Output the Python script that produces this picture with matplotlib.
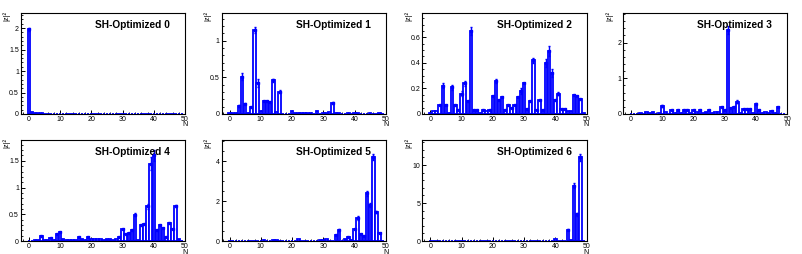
import numpy as np
import matplotlib as mpl
mpl.use('Agg')
import matplotlib.pyplot as plt
import matplotlib.ticker as mticker

mpl.rcParams.update({
    'font.family': ['Liberation Sans', 'DejaVu Sans'],
    'axes.linewidth': 0.8,
    'xtick.direction': 'in', 'ytick.direction': 'in',
    'figure.facecolor': 'white',
})

N_BINS = list(range(50))

H0 = [1.97, 0.04, 0.02, 0.03, 0.015, 0.01, 0.01, 0.01, 0.01, 0.01,
      0.01, 0.01, 0.01, 0.01, 0.005, 0.01, 0.005, 0.01, 0.005, 0.005,
      0.01, 0.005, 0.005, 0.005, 0.005, 0.01, 0.005, 0.005, 0.005, 0.005,
      0.005, 0.005, 0.005, 0.005, 0.005, 0.005, 0.005, 0.005, 0.005, 0.005,
      0.005, 0.005, 0.005, 0.005, 0.005, 0.005, 0.005, 0.005, 0.005, 0.005]
H1 = [0.02, 0.02, 0.01, 0.11, 0.51, 0.14, 0.01, 0.09, 1.14, 0.42,
      0.04, 0.18, 0.18, 0.16, 0.46, 0.03, 0.30, 0.005, 0.005, 0.005,
      0.04, 0.02, 0.02, 0.01, 0.01, 0.015, 0.01, 0.005, 0.04, 0.005,
      0.01, 0.01, 0.03, 0.15, 0.01, 0.02, 0.005, 0.005, 0.01, 0.005,
      0.01, 0.01, 0.005, 0.005, 0.005, 0.01, 0.005, 0.005, 0.02, 0.005]
H2 = [0.01, 0.02, 0.02, 0.07, 0.22, 0.07, 0.01, 0.21, 0.07, 0.03,
      0.16, 0.24, 0.10, 0.65, 0.03, 0.03, 0.01, 0.03, 0.02, 0.03,
      0.14, 0.26, 0.11, 0.13, 0.03, 0.07, 0.05, 0.07, 0.13, 0.18,
      0.24, 0.04, 0.10, 0.42, 0.03, 0.11, 0.03, 0.40, 0.49, 0.32,
      0.11, 0.16, 0.04, 0.04, 0.02, 0.02, 0.15, 0.14, 0.12, 0.005]
H3 = [0.005, 0.005, 0.01, 0.02, 0.01, 0.05, 0.02, 0.05, 0.01, 0.03,
      0.22, 0.05, 0.01, 0.10, 0.03, 0.11, 0.02, 0.10, 0.10, 0.02,
      0.10, 0.07, 0.12, 0.02, 0.06, 0.10, 0.04, 0.05, 0.06, 0.20,
      0.12, 2.35, 0.16, 0.19, 0.35, 0.02, 0.14, 0.14, 0.15, 0.02,
      0.29, 0.11, 0.02, 0.05, 0.02, 0.09, 0.04, 0.19, 0.01, 0.005]
H4 = [0.005, 0.005, 0.01, 0.01, 0.09, 0.02, 0.01, 0.06, 0.01, 0.14,
      0.16, 0.03, 0.02, 0.02, 0.01, 0.02, 0.07, 0.03, 0.01, 0.08,
      0.03, 0.03, 0.03, 0.04, 0.02, 0.03, 0.03, 0.02, 0.04, 0.07,
      0.23, 0.14, 0.15, 0.21, 0.49, 0.02, 0.30, 0.32, 0.65, 1.45,
      1.60, 0.20, 0.30, 0.25, 0.08, 0.33, 0.22, 0.65, 0.03, 0.005]
H5 = [0.01, 0.01, 0.01, 0.01, 0.01, 0.01, 0.01, 0.01, 0.01, 0.01,
      0.02, 0.05, 0.01, 0.02, 0.03, 0.03, 0.01, 0.01, 0.01, 0.01,
      0.01, 0.01, 0.08, 0.01, 0.01, 0.02, 0.01, 0.02, 0.01, 0.03,
      0.04, 0.10, 0.02, 0.01, 0.28, 0.55, 0.02, 0.10, 0.18, 0.03,
      0.60, 1.15, 0.35, 0.25, 2.40, 1.80, 4.20, 1.45, 0.42, 0.01]
H6 = [0.02, 0.02, 0.02, 0.02, 0.02, 0.02, 0.02, 0.02, 0.02, 0.02,
      0.02, 0.02, 0.02, 0.02, 0.02, 0.05, 0.02, 0.02, 0.02, 0.02,
      0.02, 0.02, 0.02, 0.02, 0.02, 0.05, 0.02, 0.02, 0.02, 0.02,
      0.05, 0.02, 0.02, 0.02, 0.02, 0.05, 0.02, 0.02, 0.02, 0.02,
      0.20, 0.05, 0.05, 0.05, 1.50, 0.10, 7.30, 3.50, 11.0, 0.05]

# error bars on the bins where they are visible: {bin: error}
E0 = {0: 0.03}
E1 = {3: 0.01, 4: 0.05, 5: 0.01, 8: 0.04, 9: 0.05, 14: 0.02, 16: 0.02, 33: 0.01}
E2 = {4: 0.02, 7: 0.02, 10: 0.02, 11: 0.02, 13: 0.03, 21: 0.015, 29: 0.02,
      33: 0.02, 37: 0.03, 38: 0.04, 39: 0.03, 41: 0.01}
E3 = {10: 0.03, 31: 0.12, 34: 0.03, 40: 0.03}
E4 = {34: 0.03, 38: 0.05, 39: 0.12, 40: 0.10, 47: 0.02}
E5 = {35: 0.05, 41: 0.08, 44: 0.12, 45: 0.10, 46: 0.15, 47: 0.05}
E6 = {44: 0.10, 46: 0.30, 47: 0.20, 48: 0.40}

HISTS = [H0, H1, H2, H3, H4, H5, H6]
ERRS = [E0, E1, E2, E3, E4, E5, E6]
TITLES = [f'SH-Optimized {i}' for i in range(7)]
Y_MAX = [2.35, 1.375, 0.79, 2.83, 1.89, 5.07, 13.3]
Y_MAJOR = [0.5, 0.5, 0.2, 1, 0.5, 2, 5]
Y_MINOR = [0.1, 0.1, 0.05, 0.2, 0.1, 0.5, 1]

BLUE = '#0000ff'
W, H = 803, 254
CELL_W = W / 4
CELL_H = 127
AX_L, AX_W = 21, 164
AX_T, AX_H = 13, 101

fig = plt.figure(figsize=(W / 100, H / 100), dpi=100)

for k, (vals, errs) in enumerate(zip(HISTS, ERRS)):
    row, col = divmod(k, 4)
    x0 = col * CELL_W + AX_L
    y_top = row * CELL_H + AX_T
    ax = fig.add_axes([x0 / W, 1 - (y_top + AX_H) / H, AX_W / W, AX_H / H])

    ax.bar(N_BINS, vals, width=0.8, facecolor='white', edgecolor=BLUE,
           linewidth=1.3, zorder=2)
    ex = list(errs.keys())
    ey = [vals[i] for i in ex]
    ee = list(errs.values())
    ax.errorbar(ex, ey, yerr=ee, fmt='none', ecolor=BLUE, elinewidth=1.0,
                capsize=1.0, capthick=1.0, zorder=3)
    big = [i for i in N_BINS if vals[i] > 0.03 * Y_MAX[k]]
    ax.plot(big, [vals[i] for i in big], ls='none', marker='s',
            markersize=2.0, color=BLUE, zorder=4)

    ax.set_xlim(-2.5, 50)
    ax.set_ylim(0, Y_MAX[k])
    ax.xaxis.set_major_locator(mticker.MultipleLocator(10))
    ax.xaxis.set_minor_locator(mticker.MultipleLocator(2))
    ax.yaxis.set_major_locator(mticker.MultipleLocator(Y_MAJOR[k]))
    ax.yaxis.set_minor_locator(mticker.MultipleLocator(Y_MINOR[k]))
    ax.yaxis.set_major_formatter(mticker.FormatStrFormatter('%g'))
    ax.tick_params(which='major', length=3, width=0.7, labelsize=5, pad=1.5)
    ax.tick_params(which='minor', length=1.5, width=0.6)
    ax.tick_params(which='both', top=False, right=False)

    ax.text(0.68, 0.88, TITLES[k], transform=ax.transAxes, ha='center',
            va='center', fontsize=7.3, fontweight='bold')

    # axis titles in ROOT style
    fig.text((col * CELL_W + 7) / W, 1 - (row * CELL_H + 16) / H, '|z|²',
             rotation=90, ha='center', va='center', fontsize=5.5)
    fig.text((x0 + AX_W) / W, 1 - (row * CELL_H + 125) / H, 'N',
             ha='center', va='center', fontsize=5)

fig.savefig('out.png', dpi=100)
